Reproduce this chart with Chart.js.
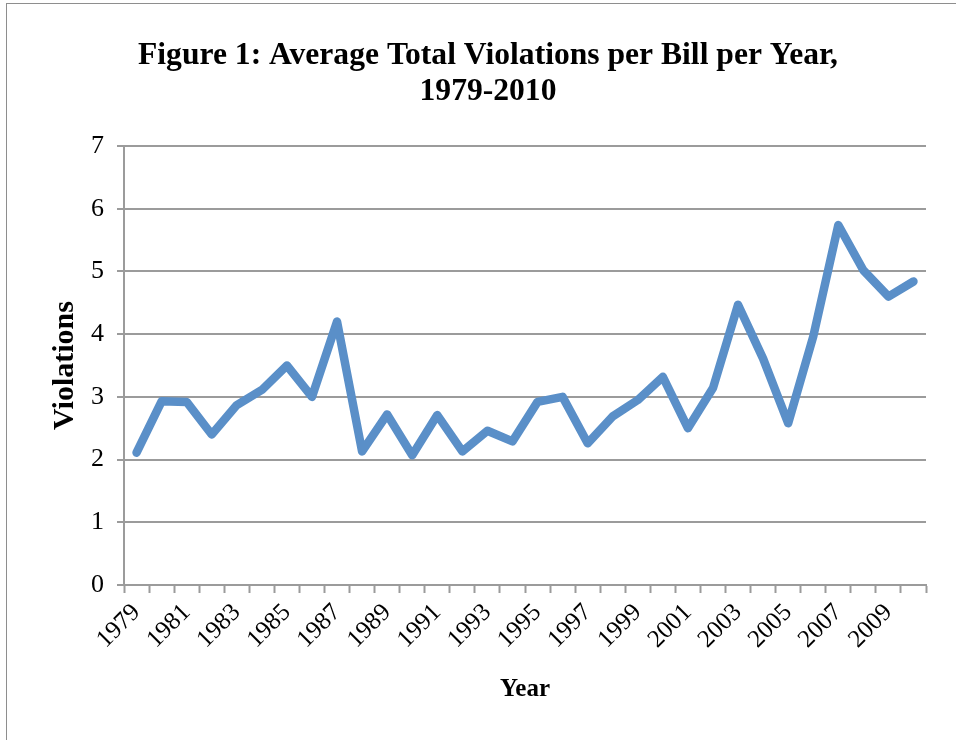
<!DOCTYPE html>
<html>
<head>
<meta charset="utf-8">
<script src="https://cdn.jsdelivr.net/npm/chart.js@4.4.0/dist/chart.umd.min.js"></script>
<style>
  html, body { margin: 0; padding: 0; background: #fff; overflow: hidden; }
  #frame { position: absolute; left: 6px; top: 3px; width: 1200px; height: 1200px; border: 1px solid #8e8e8e; }
  #violationsChart { position: absolute; left: 0; top: 0; }
</style>
</head>
<body>
<div id="frame"></div>
<canvas id="violationsChart" width="976" height="740"></canvas>
<script>
// average violations per bill, one value per year
const years = ["1979", "1980", "1981", "1982", "1983", "1984", "1985", "1986",
    "1987", "1988", "1989", "1990", "1991", "1992", "1993", "1994",
    "1995", "1996", "1997", "1998", "1999", "2000", "2001", "2002",
    "2003", "2004", "2005", "2006", "2007", "2008", "2009", "2010"];
const violations = [2.11, 2.93, 2.92, 2.40, 2.87, 3.11, 3.50, 3.00,
    4.20, 2.13, 2.72, 2.07, 2.71, 2.13, 2.46, 2.29,
    2.92, 3.00, 2.26, 2.69, 2.95, 3.32, 2.50, 3.14,
    4.47, 3.61, 2.58, 3.96, 5.74, 5.02, 4.60, 4.84];
// only every other year gets a label on the x axis
const labeledYears = ["1979", "1981", "1983", "1985", "1987", "1989", "1991", "1993",
    "1995", "1997", "1999", "2001", "2003", "2005", "2007", "2009"];
const yTicks = [0, 1, 2, 3, 4, 5, 6, 7];

const serif = "'Liberation Serif', 'Times New Roman', serif";
const gridGray = "#9b9b9b";

const ctx = document.getElementById("violationsChart").getContext("2d");

new Chart(ctx, {
    type: "line",
    data: {
        labels: years,
        datasets: [{
            data: violations,
            borderColor: "#5a8fc8",
            borderWidth: 8.5,
            borderJoinStyle: "round",
            borderCapStyle: "round",
            pointRadius: 0,
            tension: 0,
            fill: false
        }]
    },
    options: {
        responsive: false,
        maintainAspectRatio: false,
        animation: false,
        devicePixelRatio: 1,
        layout: { padding: 0 },
        plugins: {
            legend: { display: false },
            tooltip: { enabled: false },
            title: {
                display: true,
                text: ["Figure 1: Average Total Violations per Bill per Year,", "1979-2010"],
                color: "#000",
                font: { family: serif, size: 31.6, weight: "bold", lineHeight: 1.14 },
                padding: { top: 38, bottom: 36 }
            }
        },
        scales: {
            x: {
                type: "category",
                offset: true,
                grid: {
                    offset: true,
                    drawOnChartArea: false,
                    drawTicks: true,
                    tickLength: 8,
                    tickColor: gridGray,
                    tickWidth: 2
                },
                border: { display: true, color: gridGray, width: 2 },
                ticks: {
                    autoSkip: false,
                    minRotation: 45,
                    maxRotation: 45,
                    padding: 5,
                    color: "#000",
                    font: { family: serif, size: 25 },
                    callback: function (value, index) {
                        const year = years[index];
                        return labeledYears.includes(year) ? year : "";
                    }
                },
                title: {
                    display: true,
                    text: "Year",
                    color: "#000",
                    font: { family: serif, size: 25, weight: "bold", lineHeight: 1.2 },
                    padding: { top: 0, bottom: 35 }
                },
                afterFit: function (scale) {
                    scale.height = 155;
                    scale.paddingRight = 50;
                }
            },
            y: {
                min: yTicks[0],
                max: yTicks[yTicks.length - 1],
                grid: {
                    color: gridGray,
                    lineWidth: 2,
                    drawTicks: true,
                    tickLength: 7
                },
                border: { display: true, color: gridGray, width: 2 },
                afterBuildTicks: function (scale) {
                    scale.ticks = yTicks.map(v => ({ value: v }));
                },
                ticks: {
                    padding: 13,
                    color: "#000",
                    font: { family: serif, size: 26 }
                },
                title: {
                    display: true,
                    text: "Violations",
                    color: "#000",
                    font: { family: serif, size: 30, weight: "bold", lineHeight: 1.2 },
                    padding: { top: 47, bottom: 0 }
                },
                afterFit: function (scale) {
                    scale.width = 124;
                }
            }
        }
    }
});
</script>
</body>
</html>
